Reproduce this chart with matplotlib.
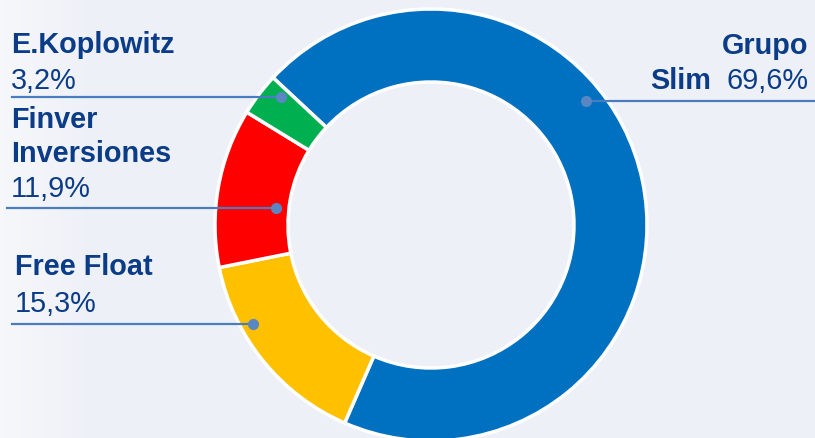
import numpy as np
import matplotlib.pyplot as plt

# shareholder data
names = ["Grupo Slim", "Free Float", "Finver Inversiones", "E.Koplowitz"]
shares = [69.6, 15.3, 11.9, 3.2]
share_labels = ["69,6%", "15,3%", "11,9%", "3,2%"]
colors = ["#0070c0", "#ffc000", "#ff0000", "#00b050"]

W, H = 815, 438
txt_col = "#0b3c87"
line_col = "#4a7dbf"
plt.rcParams['font.family'] = ['Liberation Sans', 'DejaVu Sans']

fig = plt.figure(figsize=(W / 100, H / 100), dpi=100)
fig.patch.set_facecolor("#edf0f7")
ax = fig.add_axes([0, 0, 1, 1])

# soft lighter band on the left of the background (white fading out)
fade = np.clip(1 - np.linspace(0, 1, 200) * 2.0, 0, 1)
rgba = np.ones((1, 200, 4))
rgba[0, :, 3] = 0.5 * fade
ax.imshow(rgba, extent=(0, 200, 0, H), aspect="auto", zorder=0)

cx, cy, R = 431, H - 225, 216
ax.pie(shares, colors=colors, startangle=137, counterclock=False,
       center=(cx, cy), radius=R, frame=True,
       wedgeprops=dict(width=73, edgecolor="white", linewidth=2.5))
ax.set_xlim(0, W)
ax.set_ylim(0, H)
ax.set_aspect("equal")
ax.axis("off")

# leader lines (x_start, x_end, y in image pixels), dot at the ring end
leaders = {
    "Grupo Slim": (815, 586, 101),
    "E.Koplowitz": (12, 281, 97),
    "Finver Inversiones": (7, 276, 208),
    "Free Float": (12, 253, 324),
}
for name, (x0, x1, y) in leaders.items():
    ax.plot([x0, x1], [H - y, H - y], color=line_col, lw=1.6, zorder=5)
    ax.plot(x1, H - y, "o", color="#5a86c4", ms=7, zorder=6)

fs = 20.8
# E.Koplowitz
ax.text(11, H - 53, "E.Koplowitz", fontsize=fs, fontweight="bold", color=txt_col)
ax.text(11, H - 89, share_labels[3], fontsize=fs, color=txt_col)
# Finver Inversiones
ax.text(11, H - 128, "Finver", fontsize=fs, fontweight="bold", color=txt_col)
ax.text(11, H - 162, "Inversiones", fontsize=fs, fontweight="bold", color=txt_col)
ax.text(11, H - 197, share_labels[2], fontsize=fs, color=txt_col)
# Free Float
ax.text(15, H - 275, "Free Float", fontsize=fs, fontweight="bold", color=txt_col)
ax.text(15, H - 312, share_labels[1], fontsize=fs, color=txt_col)
# Grupo Slim
ax.text(808, H - 54, "Grupo", fontsize=fs, fontweight="bold", color=txt_col, ha="right")
ax.text(808, H - 89, share_labels[0], fontsize=fs, color=txt_col, ha="right")
ax.text(711, H - 89, "Slim", fontsize=fs, fontweight="bold", color=txt_col, ha="right")

fig.savefig("out.png", dpi=100, facecolor=fig.get_facecolor())
